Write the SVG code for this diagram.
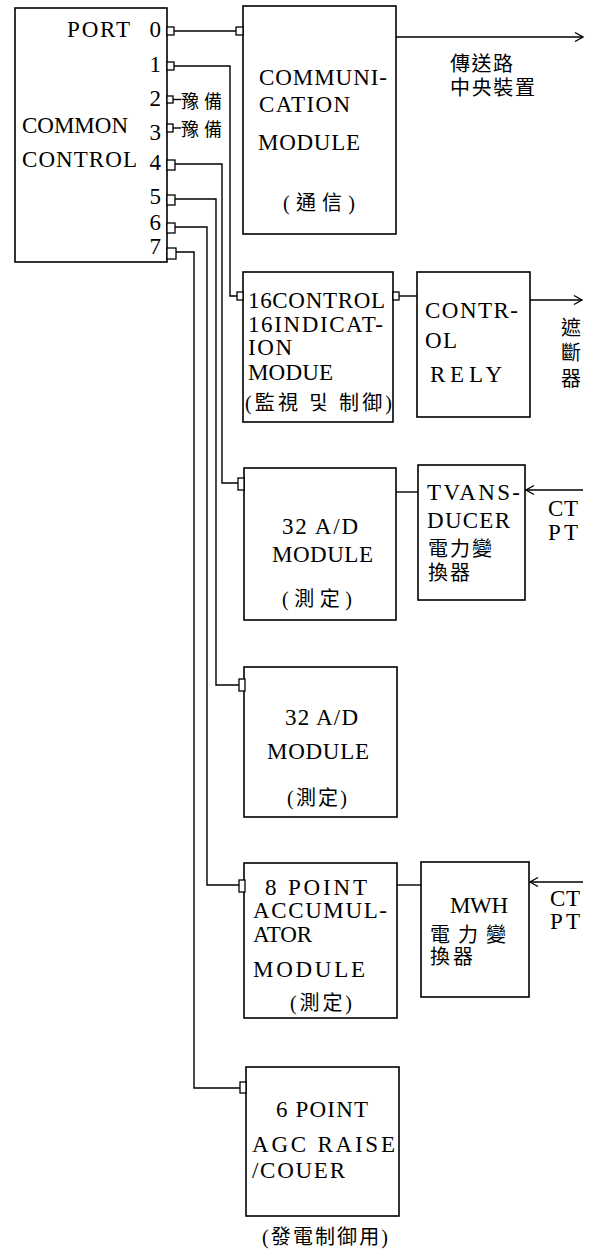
<svg xmlns="http://www.w3.org/2000/svg" width="591" height="1250" viewBox="0 0 591 1250">
<defs>
<style>
.box{fill:#fff;stroke:#000;stroke-width:1.6}
.port{fill:#fff;stroke:#000;stroke-width:1.3}
.ln{fill:none;stroke:#000;stroke-width:1.4}
.t{font-family:"Liberation Serif","Noto Sans CJK TC","Noto Sans CJK KR",serif;font-size:23px;fill:#000}
.c{font-family:"Liberation Serif","Noto Sans CJK TC","Noto Sans CJK KR",serif;font-size:20px;fill:#000}
.s{font-size:18px}
</style>
<marker id="arr" viewBox="-10 -6 12 12" refX="0" refY="0" markerWidth="12" markerHeight="12" markerUnits="userSpaceOnUse" orient="auto">
<path d="M-8,-4.5 L0,0 L-8,4.5" fill="none" stroke="#000" stroke-width="1.4"/>
</marker>
</defs>
<rect width="591" height="1250" fill="#fff"/>

<g id="connectors">
<path class="ln" d="M174,31 H236"/>
<path class="ln" d="M174,66 H230 V296 H237"/>
<path class="ln" d="M173,99.5 H181"/>
<path class="ln" d="M173,128 H181"/>
<path class="ln" d="M175,164 H222 V483 H238"/>
<path class="ln" d="M175,199 H216 V685 H239"/>
<path class="ln" d="M175,227 H207 V885 H239"/>
<path class="ln" d="M176,252 H194 V1088 H240"/>
<path class="ln" d="M399,296 H417"/>
<path class="ln" d="M396,37 H583" marker-end="url(#arr)"/>
<path class="ln" d="M530,300 H582" marker-end="url(#arr)"/>
<path class="ln" d="M396,492 H418"/>
<path class="ln" d="M583,490 H526" marker-end="url(#arr)"/>
<path class="ln" d="M397,885 H421"/>
<path class="ln" d="M583,882 H530" marker-end="url(#arr)"/>
</g>

<g id="common-control">
<rect class="box" x="15" y="8" width="152" height="254"/>
<rect class="port" x="167" y="27" width="7" height="8"/>
<rect class="port" x="167" y="62" width="7" height="8"/>
<rect class="port" x="167" y="96" width="6" height="7"/>
<rect class="port" x="167" y="124" width="6" height="8"/>
<rect class="port" x="167" y="160" width="8" height="10"/>
<rect class="port" x="167" y="195" width="8" height="10"/>
<rect class="port" x="167" y="223" width="8" height="10"/>
<rect class="port" x="167" y="248" width="9" height="11"/>
<text class="t" x="67" y="37" textLength="63" lengthAdjust="spacing">PORT</text>
<text class="t" x="161" y="37" text-anchor="end">0</text>
<text class="t" x="161" y="72" text-anchor="end">1</text>
<text class="t" x="161" y="106" text-anchor="end">2</text>
<text class="t" x="161" y="140" text-anchor="end">3</text>
<text class="t" x="161" y="170" text-anchor="end">4</text>
<text class="t" x="161" y="204" text-anchor="end">5</text>
<text class="t" x="161" y="230" text-anchor="end">6</text>
<text class="t" x="161" y="254" text-anchor="end">7</text>
<text class="t" x="22" y="133" textLength="106" lengthAdjust="spacing">COMMON</text>
<text class="t" x="22" y="167" textLength="115" lengthAdjust="spacing">CONTROL</text>
<text class="c s" x="181" y="108" textLength="41" lengthAdjust="spacing">豫備</text>
<text class="c s" x="181" y="136" textLength="41" lengthAdjust="spacing">豫備</text>
</g>

<g id="communication-module">
<rect class="box" x="243" y="6" width="153" height="228"/>
<rect class="port" x="236" y="27" width="7" height="8"/>
<text class="t" x="259" y="85" textLength="128" lengthAdjust="spacing">COMMUNI-</text>
<text class="t" x="259" y="112" textLength="91" lengthAdjust="spacing">CATION</text>
<text class="t" x="258" y="150" textLength="102" lengthAdjust="spacing">MODULE</text>
<text class="c" x="283" y="210" textLength="72" lengthAdjust="spacing">(通信)</text>
</g>

<g id="central-label">
<text class="c" x="450" y="71" textLength="63" lengthAdjust="spacing">傳送路</text>
<text class="c" x="450" y="95" textLength="85" lengthAdjust="spacing">中央裝置</text>
</g>

<g id="control-indication-module">
<rect class="box" x="243" y="272" width="150" height="150"/>
<rect class="port" x="237" y="292" width="6" height="8"/>
<rect class="port" x="393" y="292" width="6" height="8"/>
<text class="t" x="248" y="308" textLength="137" lengthAdjust="spacing">16CONTROL</text>
<text class="t" x="248" y="332" textLength="135" lengthAdjust="spacing">16INDICAT-</text>
<text class="t" x="248" y="355" textLength="44" lengthAdjust="spacing">ION</text>
<text class="t" x="248" y="380" textLength="85" lengthAdjust="spacing">MODUE</text>
<text class="c" x="245" y="410" textLength="147" lengthAdjust="spacing">(監視 및 制御)</text>
</g>

<g id="control-relay">
<rect class="box" x="417" y="272" width="113" height="145"/>
<text class="t" x="425" y="318" textLength="93" lengthAdjust="spacing">CONTR-</text>
<text class="t" x="425" y="348" textLength="32" lengthAdjust="spacing">OL</text>
<text class="t" x="430" y="382" textLength="72" lengthAdjust="spacing">RELY</text>
</g>

<g id="breaker-label">
<text class="c" x="571" y="335" text-anchor="middle">遮</text>
<text class="c" x="571" y="360" text-anchor="middle">斷</text>
<text class="c" x="571" y="386" text-anchor="middle">器</text>
</g>

<g id="ad-module-1">
<rect class="box" x="244" y="468" width="152" height="152"/>
<rect class="port" x="238" y="478" width="6" height="12"/>
<text class="t" x="282" y="534" textLength="76" lengthAdjust="spacing">32 A/D</text>
<text class="t" x="272" y="562" textLength="101" lengthAdjust="spacing">MODULE</text>
<text class="c" x="282" y="606" textLength="70" lengthAdjust="spacing">(測定)</text>
</g>

<g id="transducer">
<rect class="box" x="418" y="465" width="107" height="135"/>
<text class="t" x="427" y="500" textLength="93" lengthAdjust="spacing">TVANS-</text>
<text class="t" x="427" y="528" textLength="83" lengthAdjust="spacing">DUCER</text>
<text class="c" x="428" y="556" textLength="64" lengthAdjust="spacing">電力變</text>
<text class="c" x="428" y="580" textLength="42" lengthAdjust="spacing">換器</text>
</g>

<g id="ctpt-1">
<text class="t" x="548" y="516" textLength="30" lengthAdjust="spacing">CT</text>
<text class="t" x="548" y="540" textLength="30" lengthAdjust="spacing">PT</text>
</g>

<g id="ad-module-2">
<rect class="box" x="244" y="667" width="153" height="150"/>
<rect class="port" x="239" y="679" width="6" height="12"/>
<text class="t" x="285" y="725" textLength="73" lengthAdjust="spacing">32 A/D</text>
<text class="t" x="267" y="759" textLength="102" lengthAdjust="spacing">MODULE</text>
<text class="c" x="287" y="805" textLength="60" lengthAdjust="spacing">(測定)</text>
</g>

<g id="accumulator-module">
<rect class="box" x="244" y="863" width="153" height="155"/>
<rect class="port" x="239" y="880" width="6" height="12"/>
<text class="t" x="265" y="895" textLength="102" lengthAdjust="spacing">8 POINT</text>
<text class="t" x="253" y="918" textLength="134" lengthAdjust="spacing">ACCUMUL-</text>
<text class="t" x="253" y="942" textLength="59" lengthAdjust="spacing">ATOR</text>
<text class="t" x="253" y="977" textLength="112" lengthAdjust="spacing">MODULE</text>
<text class="c" x="290" y="1010" textLength="62" lengthAdjust="spacing">(測定)</text>
</g>

<g id="mwh-transducer">
<rect class="box" x="421" y="862" width="108" height="135"/>
<text class="t" x="450" y="913" textLength="58" lengthAdjust="spacing">MWH</text>
<text class="c" x="430" y="942" textLength="76" lengthAdjust="spacing">電力變</text>
<text class="c" x="430" y="964" textLength="43" lengthAdjust="spacing">換器</text>
</g>

<g id="ctpt-2">
<text class="t" x="550" y="906" textLength="30" lengthAdjust="spacing">CT</text>
<text class="t" x="550" y="929" textLength="30" lengthAdjust="spacing">PT</text>
</g>

<g id="agc-module">
<rect class="box" x="246" y="1067" width="153" height="149"/>
<rect class="port" x="240" y="1082" width="6" height="11"/>
<text class="t" x="276" y="1117" textLength="92" lengthAdjust="spacing">6 POINT</text>
<text class="t" x="252" y="1152" textLength="143" lengthAdjust="spacing">AGC RAISE</text>
<text class="t" x="252" y="1178" textLength="93" lengthAdjust="spacing">/COUER</text>
<text class="c" x="262" y="1244" textLength="126" lengthAdjust="spacing">(發電制御用)</text>
</g>
</svg>
